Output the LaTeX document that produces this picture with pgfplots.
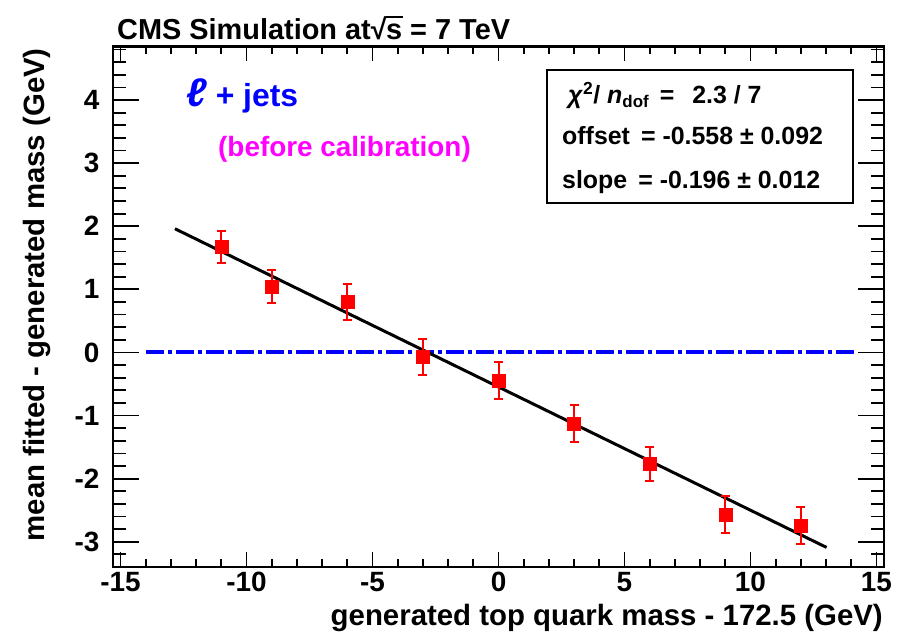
\documentclass[border=0pt]{standalone}
\usepackage{pgfplots}
\pgfplotsset{compat=1.18}
\usepackage{pgfplotstable}
\usepackage{fontspec}
\setmainfont{Liberation Sans}
\definecolor{rootred}{RGB}{255,0,0}
\definecolor{rootblue}{RGB}{0,0,255}
\definecolor{rootmagenta}{RGB}{255,0,255}

% mean fitted minus generated top mass, per generated mass point
\pgfplotstableread{
x    y      e
-11  1.67   0.26
-9   1.04   0.26
-6   0.80   0.285
-3   -0.07  0.29
0    -0.44  0.29
3    -1.13  0.29
6    -1.77  0.27
9    -2.57  0.29
12   -2.74  0.29
}\calib

% square root of s built from the text font
\newcommand{\sqrts}{√\kern-0.5bp\rlap{\rule[0.76em]{0.58em}{1.6bp}}s}

\begin{document}
\begin{tikzpicture}[x=1bp,y=1bp]
\useasboundingbox (-113,-68) rectangle (785,567);
\pgfplotsset{
  rootframe/.style={
    at={(0,0)}, anchor=south west, scale only axis,
    width=771bp, height=520.6bp,
    xmin=-15.3, xmax=15.3, ymin=-3.4, ymax=4.85,
    axis line style={line width=2.6bp},
    tick align=inside,
    every tick/.style={black, line width=1.8bp},
    tick label style={font=\fontsize{28}{30}\selectfont\bfseries},
  }
}
% frame with the x ticks
\begin{axis}[rootframe,
  xtick={-15,-10,...,15}, xticklabels={-15,-10,-5,0,5,10,15},
  minor xtick={-15,-14,...,15},
  ytick=\empty,
  major tick length=15bp, minor tick length=8bp,
  x tick label style={yshift=-2bp},
]
\end{axis}
% y ticks and the data
\begin{axis}[rootframe,
  xtick=\empty,
  ytick={-3,...,4}, yticklabels={-3,-2,-1,0,1,2,3,4},
  minor ytick={-3.4,-3.2,...,4.81},
  major tick length=26bp, minor tick length=13bp,
  y tick label style={xshift=-10bp},
]
  \addplot[rootblue, line width=4bp, dash pattern=on 18bp off 4bp on 4bp off 4bp]
    coordinates {(-14,0) (14.15,0)};
  \addplot[black, line width=3bp]
    coordinates {(-12.84,1.96) (13.02,-3.09)};
  \addplot[only marks, rootred, mark=square*, mark size=6.5bp,
    error bars/.cd, y dir=both, y explicit,
    error bar style={rootred, line width=2bp},
    error mark options={rootred, rotate=90, mark size=4.5bp, line width=2bp}]
    table[x=x, y=y, y error=e]{\calib};
\end{axis}

% titles
\node[anchor=base west, inner sep=0, font=\fontsize{29}{30}\selectfont\bfseries]
  at (4,527) {CMS Simulation at\sqrts{} = 7 TeV};
\node[anchor=base east, inner sep=0, font=\fontsize{29.5}{30}\selectfont\bfseries]
  at (770,-59) {generated top quark mass - 172.5 (GeV)};
\node[anchor=base east, rotate=90, inner sep=0, font=\fontsize{29.5}{30}\selectfont\bfseries]
  at (-68,519) {mean fitted - generated mass (GeV)};

% channel labels
\node[anchor=base west, inner sep=0, text=rootblue, font=\bfseries]
  at (73,460) {\fontsize{40}{40}\selectfont\textit{ℓ}\fontsize{32}{32}\selectfont\ + jets};
\node[anchor=base west, inner sep=0, text=rootmagenta, font=\fontsize{28}{30}\selectfont\bfseries]
  at (105,410) {(before calibration)};

% fit result box
\draw[line width=2bp] (434,364) rectangle (740,497);
\node[anchor=base west, inner sep=0, font=\fontsize{25}{26}\selectfont\bfseries]
  at (455,463) {\textit{χ}\textsuperscript{2}/ \textit{n}\raisebox{-0.3ex}{\fontsize{17}{17}\selectfont dof} \,=\,\ \ 2.3 / 7};
\node[anchor=base west, inner sep=0, font=\fontsize{25}{26}\selectfont\bfseries]
  at (449,422) {offset \,= -0.558 ± 0.092};
\node[anchor=base west, inner sep=0, font=\fontsize{25}{26}\selectfont\bfseries]
  at (449,378) {slope \,= -0.196 ± 0.012};
\end{tikzpicture}
\end{document}
